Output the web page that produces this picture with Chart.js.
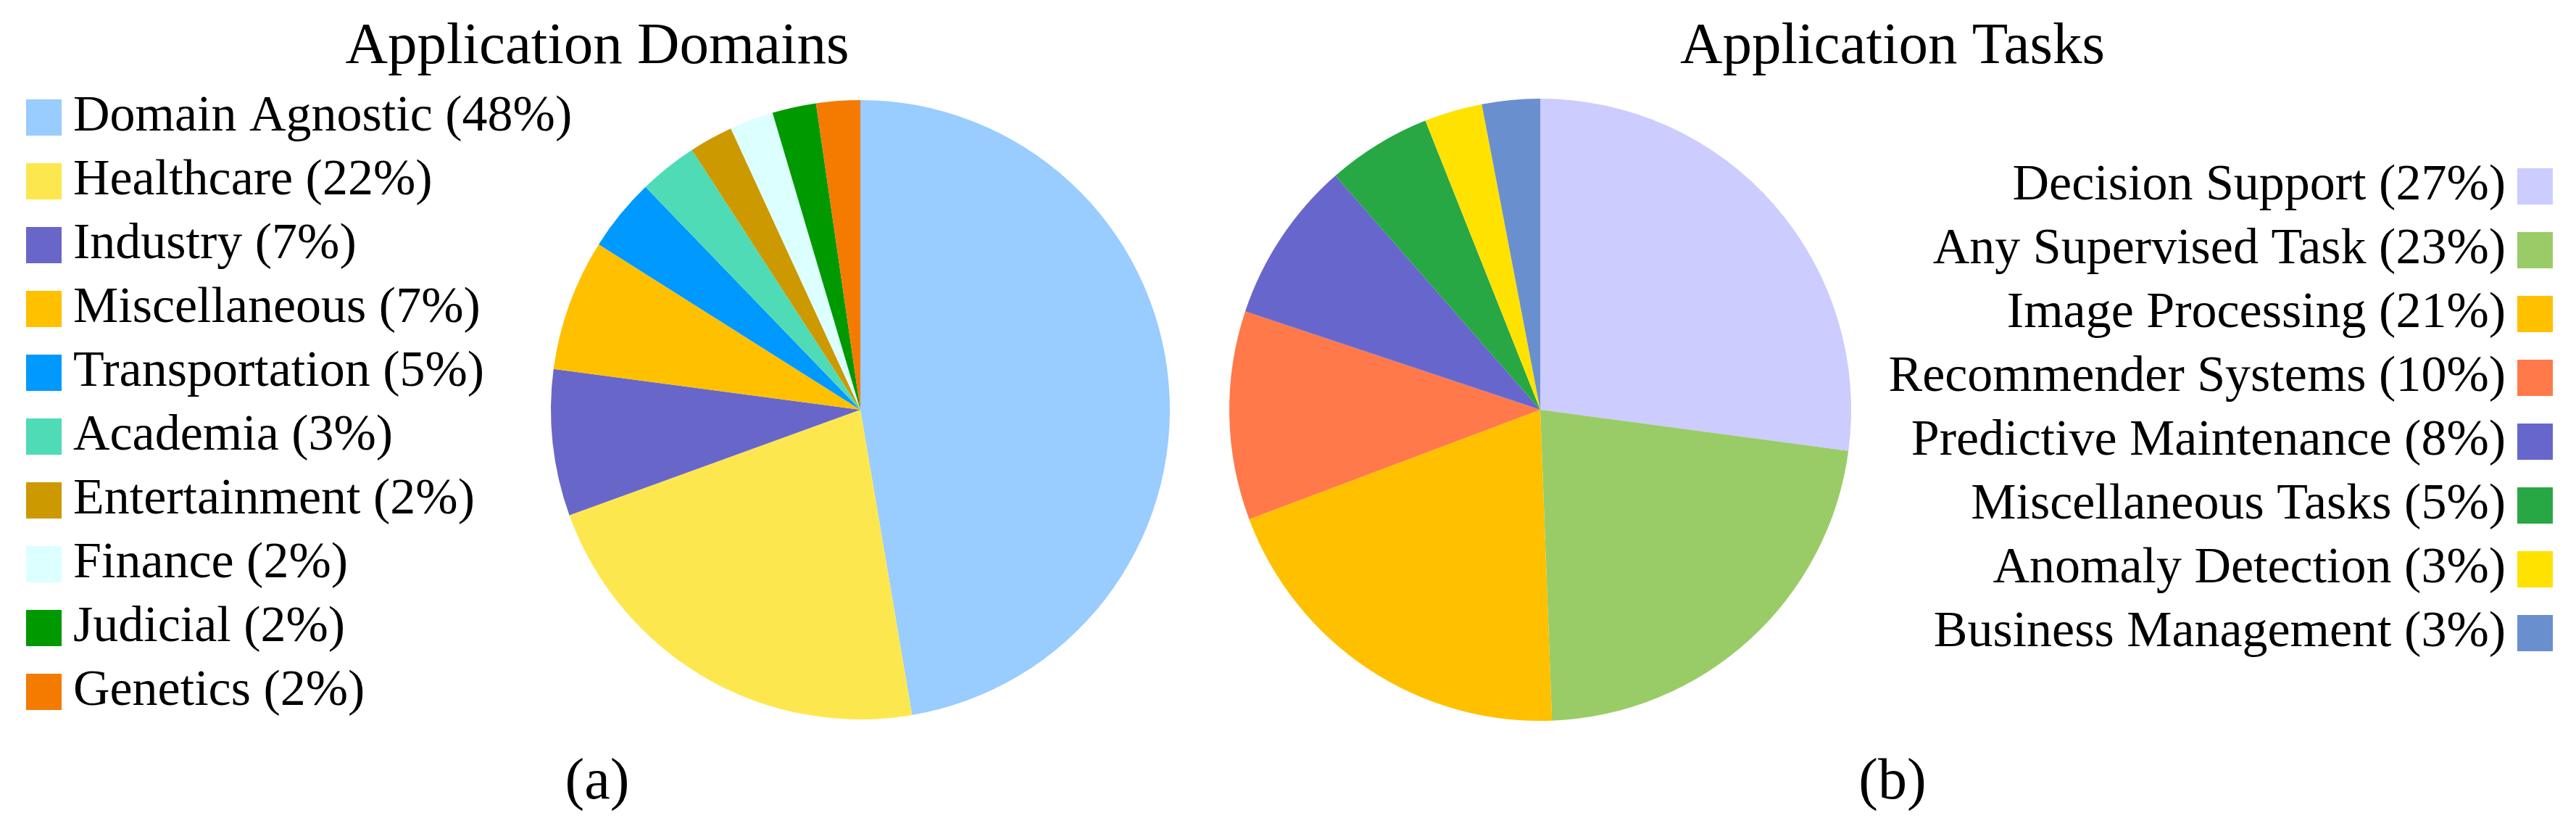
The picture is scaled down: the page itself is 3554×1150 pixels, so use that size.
<!DOCTYPE html>
<html>
<head>
<meta charset="utf-8">
<script src="https://cdn.jsdelivr.net/npm/chart.js@4/dist/chart.umd.min.js"></script>
<style>
    html, body {
        margin: 0;
        padding: 0;
        background: #fff;
    }

    #wrap {
        position: relative;
        width: 3554px;
        height: 1150px;
    }

    canvas {
        position: absolute;
        top: 0;
    }

    #domains {
        left: 0;
    }

    #tasks {
        left: 1670px;
    }
</style>
</head>
<body>
<div id="wrap">
    <canvas id="domains" width="1650" height="1150"></canvas>
    <canvas id="tasks" width="1884" height="1150"></canvas>
</div>
<script>
const domainLabels = [
    "Domain Agnostic (48%)",
    "Healthcare (22%)",
    "Industry (7%)",
    "Miscellaneous (7%)",
    "Transportation (5%)",
    "Academia (3%)",
    "Entertainment (2%)",
    "Finance (2%)",
    "Judicial (2%)",
    "Genetics (2%)",
];
// slice sizes as drawn (read from the angles, not from the rounded labels)
const domainValues = [62, 29, 10, 9, 5, 4, 3, 3, 3, 3];
const domainColors = [
    "#99CCFF", "#FDE74F", "#6867C9", "#FFC000", "#0099FF",
    "#4FDBB6", "#CC9900", "#DCFFFF", "#009900", "#F57A00",
];

const taskLabels = [
    "Decision Support (27%)",
    "Any Supervised Task (23%)",
    "Image Processing (21%)",
    "Recommender Systems (10%)",
    "Predictive Maintenance (8%)",
    "Miscellaneous Tasks (5%)",
    "Anomaly Detection (3%)",
    "Business Management (3%)",
];
const taskValues = [45, 37, 33, 18, 14, 9, 5, 5];
const taskColors = [
    "#CCCCFF", "#99CC66", "#FFC000", "#FF794A",
    "#6666CC", "#28A745", "#FFE200", "#6A8FCE",
];

Chart.defaults.font.family = "'Liberation Serif', 'Times New Roman', serif";
Chart.defaults.color = "#000";

// the legend box is sized by us so that title and pie land where they should;
// after layout the box may be widened again so long labels are not clipped
const fixedLegendWidth = {
    id: "fixedLegendWidth",
    beforeLayout(chart, args, opts) {
        const legend = chart.legend;
        if (!legend || legend._fixedFit) return;

        const fit = legend.fit;
        legend.fit = function () {
            fit.call(this);
            this.width = opts.width;
        };
        legend._fixedFit = true;
    },
    afterLayout(chart, args, opts) {
        const legend = chart.legend;
        if (!legend || !opts.drawWidth) return;

        legend.width = opts.drawWidth;
        legend.right = legend.left + opts.drawWidth;
    },
};

// square swatches: a small rect with a thick stroke of the same colour,
// so the gap between swatch and text stays narrow
function squareLabels(chart) {
    const items = Chart.overrides.pie.plugins.legend.labels.generateLabels(chart);

    return items.map(item => ({
        ...item,
        strokeStyle: item.fillStyle,
        lineWidth: 38,
    }));
}

function buildPie(canvasId, labels, values, colors, opts) {
    return new Chart(canvasId, {
        type: "pie",
        data: {
            labels: labels,
            datasets: [{
                data: values,
                backgroundColor: colors,
                borderWidth: 0,
                radius: opts.radius,
                clip: false,
            }],
        },
        plugins: [fixedLegendWidth],
        options: {
            responsive: false,
            animation: false,
            events: [],
            layout: {
                padding: opts.padding,
            },
            plugins: {
                fixedLegendWidth: {
                    width: opts.legendWidth,
                    drawWidth: opts.legendDrawWidth,
                },
                legend: {
                    position: opts.legendPosition,
                    align: opts.legendAlign,
                    fullSize: false,
                    rtl: opts.rtl,
                    textDirection: "ltr",
                    labels: {
                        boxWidth: 12,
                        boxHeight: 12,
                        padding: 18,
                        font: { size: 70 },
                        generateLabels: squareLabels,
                    },
                },
                title: {
                    display: true,
                    text: opts.title,
                    font: { size: 81, weight: "normal", lineHeight: 1 },
                    padding: { top: 25, bottom: 3 },
                },
                subtitle: {
                    display: true,
                    position: "bottom",
                    text: opts.caption,
                    font: { size: 80, weight: "normal", lineHeight: 1 },
                    padding: { top: 19, bottom: 30 },
                },
                tooltip: { enabled: false },
            },
        },
    });
}

buildPie("domains", domainLabels, domainValues, domainColors, {
    title: "Application Domains",
    caption: "(a)",
    legendPosition: "left",
    legendAlign: "start",
    rtl: false,
    legendWidth: 726,
    legendDrawWidth: 800,
    radius: 427,
    padding: { left: 36, right: 38, top: 0, bottom: 0 },
});

buildPie("tasks", taskLabels, taskValues, taskColors, {
    title: "Application Tasks",
    caption: "(b)",
    legendPosition: "right",
    legendAlign: "center",
    rtl: true,
    legendWidth: 972,
    radius: 429,
    padding: { left: 30, right: 32, top: 0, bottom: 0 },
});
</script>
</body>
</html>
